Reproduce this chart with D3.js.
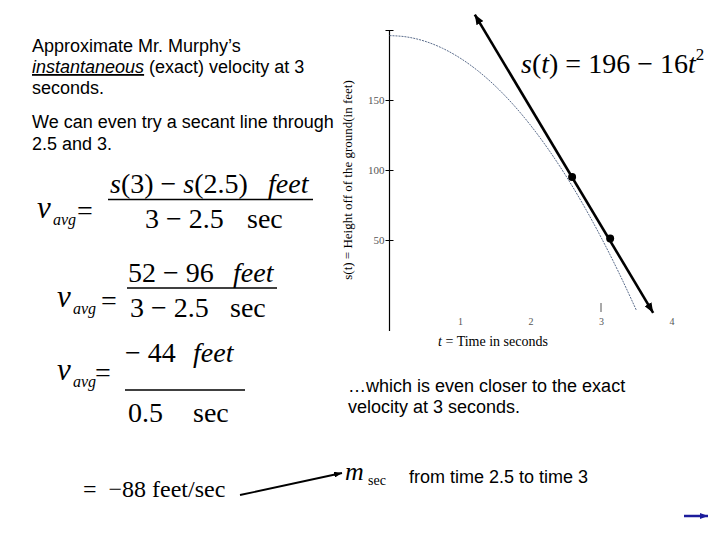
<!DOCTYPE html>
<html>
<head>
<meta charset="utf-8">
<script src="https://cdn.jsdelivr.net/npm/d3@7"></script>
<style>
  html, body { margin: 0; padding: 0; background: #fff; }
  svg { display: block; }
  text { white-space: pre; }
</style>
</head>
<body>
<svg id="chart" width="720" height="540"></svg>
<script>
// ---------- data ----------
const curveT = [0, 0.25, 0.5, 0.75, 1, 1.25, 1.5, 1.75, 2, 2.25, 2.5, 2.75, 3, 3.25, 3.5];
const curveS = [196, 195, 192, 187, 180, 171, 160, 147, 132, 115, 96, 75, 52, 27, 0];
const dotT = [2.59, 3.13];
const dotS = [95, 51];
const secantT = [1.21, 3.74];
const secantS = [211, -2];
const xTicks = [1, 2, 3, 4];
const xTickLabels = ["1", "2", "3", "4"];
const yTicks = [50, 100, 150, 200];
const yTickLabels = ["50", "100", "150", ""];

const SANS = "'Liberation Sans', Arial, sans-serif";
const SERIF = "'Liberation Serif', 'Times New Roman', serif";

const svg = d3.select("#chart");
svg.append("rect").attr("width", 720).attr("height", 540).attr("fill", "#fff");

const defs = svg.append("defs");
function marker(id, color, w, h) {
  defs.append("marker").attr("id", id)
    .attr("viewBox", `0 0 ${w} ${h}`)
    .attr("refX", w).attr("refY", h / 2)
    .attr("markerWidth", w).attr("markerHeight", h)
    .attr("markerUnits", "userSpaceOnUse")
    .attr("orient", "auto-start-reverse")
    .append("path").attr("d", `M0,0 L${w},${h / 2} L0,${h} Z`).attr("fill", color);
}
marker("arrBlack", "#000", 10, 8);
marker("arrSmall", "#000", 8, 6);
marker("arrBlue", "#1c1c9c", 8, 6);

// ---------- scales ----------
const x = d3.scaleLinear().domain([0, 4]).range([389.5, 671.5]);
const y = d3.scaleLinear().domain([0, 200]).range([310, 30]);

// y axis spine
svg.append("line")
  .attr("x1", x(0)).attr("x2", x(0))
  .attr("y1", y(200)).attr("y2", y(-15))
  .attr("stroke", "#000").attr("stroke-width", 1.2);

// y axis ticks
const yAxis = d3.axisLeft(y).tickValues(yTicks)
  .tickFormat((d, i) => yTickLabels[i]).tickSizeInner(4).tickSizeOuter(0).tickPadding(1);
const gy = svg.append("g").attr("transform", `translate(${x(0)},0)`).call(yAxis);
gy.select(".domain").remove();
gy.selectAll(".tick line").attr("x1", 4).attr("x2", -4).attr("stroke", "#000");
gy.selectAll(".tick text").attr("font-family", SERIF).attr("font-size", 11).attr("fill", "#555");

// x axis labels (no spine)
const xAxis = d3.axisBottom(x).tickValues(xTicks)
  .tickFormat((d, i) => xTickLabels[i]).tickSize(0).tickPadding(8);
const gx = svg.append("g").attr("transform", `translate(0,${y(0)})`).call(xAxis);
gx.select(".domain").remove();
gx.selectAll(".tick text").attr("font-family", SERIF).attr("font-size", 10).attr("fill", "#555");
// small tick mark above t = 3
svg.append("line").attr("x1", x(3)).attr("x2", x(3))
  .attr("y1", y(0) - 7).attr("y2", y(0) + 2).attr("stroke", "#555").attr("stroke-width", 1);

// axis titles
svg.append("text")
  .attr("transform", `translate(352,180) rotate(-90)`)
  .attr("text-anchor", "middle")
  .attr("font-family", SERIF).attr("font-size", 13)
  .text("s(t) = Height off of the ground(in feet)");
const xl = svg.append("text").attr("x", 493).attr("y", 346).attr("text-anchor", "middle")
  .attr("font-family", SERIF).attr("font-size", 14);
xl.append("tspan").attr("font-style", "italic").text("t");
xl.append("tspan").text(" = Time in seconds");

// curve
const curveData = curveT.map((t, i) => ({ t, s: curveS[i] }));
svg.append("path").datum(curveData)
  .attr("d", d3.line().x(d => x(d.t)).y(d => y(d.s)).curve(d3.curveMonotoneX))
  .attr("fill", "none").attr("stroke", "#5b6d8c").attr("stroke-width", 1)
  .attr("stroke-dasharray", "2,1");

// secant line
const secData = secantT.map((t, i) => ({ t, s: secantS[i] }));
svg.append("path").datum(secData)
  .attr("d", d3.line().x(d => x(d.t)).y(d => y(d.s)))
  .attr("fill", "none").attr("stroke", "#000").attr("stroke-width", 2.6)
  .attr("marker-start", "url(#arrBlack)").attr("marker-end", "url(#arrBlack)");

// dots
svg.selectAll("circle.dot").data(dotT.map((t, i) => ({ t, s: dotS[i] })))
  .enter().append("circle").attr("class", "dot")
  .attr("cx", d => x(d.t)).attr("cy", d => y(d.s)).attr("r", 4).attr("fill", "#000");

// formula
const f = svg.append("text").attr("x", 521).attr("y", 73)
  .attr("font-family", SERIF).attr("font-size", 28);
f.append("tspan").attr("font-style", "italic").text("s");
f.append("tspan").text("(");
f.append("tspan").attr("font-style", "italic").text("t");
f.append("tspan").text(") = 196 \u2212 16");
f.append("tspan").attr("font-style", "italic").text("t");
f.append("tspan").attr("font-size", 17).attr("dy", -13).text("2");

// ---------- left text ----------
function sansLine(xp, yp, txt) {
  return svg.append("text").attr("x", xp).attr("y", yp)
    .attr("font-family", SANS).attr("font-size", 18).attr("fill", "#000").text(txt);
}
sansLine(32, 52, "Approximate Mr. Murphy\u2019s");
const l2 = svg.append("text").attr("x", 32).attr("y", 73)
  .attr("font-family", SANS).attr("font-size", 18);
l2.append("tspan").attr("font-style", "italic").attr("text-decoration", "underline").text("instantaneous");
l2.append("tspan").text(" (exact) velocity at 3");
sansLine(32, 94, "seconds.");
sansLine(32, 128, "We can even try a secant line through");
sansLine(32, 150, "2.5 and 3.");

sansLine(348, 392, "\u2026which is even closer to the exact");
sansLine(348, 413, "velocity at 3 seconds.");
sansLine(409, 483, "from time 2.5 to time 3");

// ---------- equations ----------
function st(xp, yp, size, parts, anchor) {
  const t = svg.append("text").attr("x", xp).attr("y", yp)
    .attr("font-family", SERIF).attr("font-size", size)
    .attr("text-anchor", anchor || "start");
  parts.forEach(p => {
    const ts = t.append("tspan").text(p[0]);
    if (p[1]) ts.attr("font-style", "italic");
  });
  return t;
}
function hline(x1, x2, yy) {
  svg.append("line").attr("x1", x1).attr("x2", x2).attr("y1", yy).attr("y2", yy)
    .attr("stroke", "#000").attr("stroke-width", 1.3);
}
function vavg(xp, yp) {
  st(xp, yp, 31, [["v", true]]);
  st(xp + 16, yp + 7, 16, [["avg", true]]);
}

// eq 1
vavg(37, 218);
st(77, 220, 28, [["="]]);
st(110, 193, 28, [["s", true], ["(3) \u2212 "], ["s", true], ["(2.5)"]]);
st(268, 193, 28, [["feet", true]]);
hline(108, 313, 199.5);
st(145, 228, 28, [["3 \u2212 2.5"]]);
st(247, 228, 28, [["sec"]]);

// eq 2
vavg(57, 307);
st(101, 310, 28, [["="]]);
st(128, 282, 28, [["52 \u2212 96"]]);
st(233, 282, 28, [["feet", true]]);
hline(127, 277, 288);
st(130, 317, 28, [["3 \u2212 2.5"]]);
st(230, 317, 28, [["sec"]]);

// eq 3
vavg(57, 380);
st(95, 382, 28, [["="]]);
st(125, 362, 28, [["\u2212 44"]]);
st(193, 362, 28, [["feet", true]]);
hline(125, 245, 390);
st(128, 422, 28, [["0.5"]]);
st(193, 422, 28, [["sec"]]);

// result
st(83, 497, 24, [["=  \u221288 feet/sec"]]);
svg.append("line").attr("x1", 240).attr("y1", 495).attr("x2", 342).attr("y2", 473)
  .attr("stroke", "#000").attr("stroke-width", 1.8).attr("marker-end", "url(#arrSmall)");
st(345, 480, 26, [["m", true]]);
st(368, 485, 14, [["sec"]]);

// nav arrow
svg.append("line").attr("x1", 684).attr("y1", 516).attr("x2", 708).attr("y2", 516)
  .attr("stroke", "#1c1c9c").attr("stroke-width", 2.5).attr("marker-end", "url(#arrBlue)");
</script>
</body>
</html>
